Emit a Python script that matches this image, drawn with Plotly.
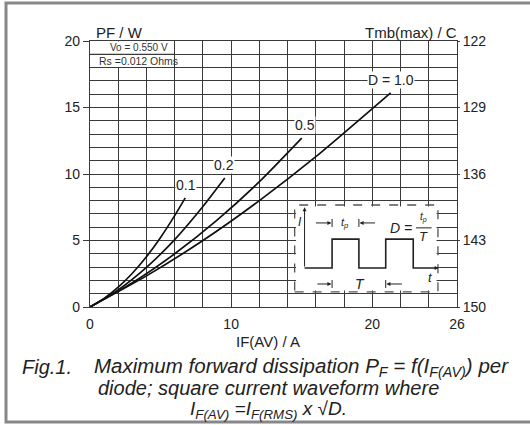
import plotly.graph_objects as go

# ---------------- data ----------------
duty_labels = ["0.1", "0.2", "0.5", "D = 1.0"]
i_d01 = [0, 1, 2, 3, 4, 5, 6, 6.75]
p_d01 = [0, 0.65, 1.49, 2.54, 3.78, 5.23, 6.87, 8.2]
i_d02 = [0, 2, 4, 6, 8, 9.55]
p_d02 = [0, 1.29, 2.98, 5.07, 7.56, 9.7]
i_d05 = [0, 3, 6, 9, 12, 15]
p_d05 = [0, 1.82, 4.0, 6.53, 9.42, 12.7]
i_d10 = [0, 4, 8, 12, 16, 21.3]
p_d10 = [0, 2.34, 5.0, 8.0, 11.3, 16.1]
# label anchor positions (A, W)
label_x = [6.8, 9.5, 15.25, 21.3]
label_y = [9.2, 10.7, 13.7, 17.1]

x_ticks = [0, 10, 20, 26]
y_ticks = [0, 5, 10, 15, 20]
t_ticks = [122, 129, 136, 143, 150]

FONT = "Liberation Sans"
INK = "#222222"
GRID = "#3a3a3a"

# ---------------- figure ----------------
W, H = 530, 425
L, R, T, B = 90, 73, 41, 118
PW, PH = W - L - R, H - T - B


def xp(px):
    return (px - L) / PW


def yp(py):
    return (H - B - py) / PH


fig = go.Figure()
for xs, ys in [(i_d01, p_d01), (i_d02, p_d02), (i_d05, p_d05), (i_d10, p_d10)]:
    fig.add_trace(go.Scatter(x=xs, y=ys, mode="lines",
                             line=dict(color="#111111", width=1.7, shape="spline", smoothing=0.6),
                             showlegend=False, hoverinfo="skip"))
# invisible trace to activate right axis
fig.add_trace(go.Scatter(x=[0], y=[150], yaxis="y2", mode="markers",
                         marker=dict(opacity=0), showlegend=False, hoverinfo="skip"))

ann = []
for lx, ly, t in zip(label_x, label_y, duty_labels):
    ann.append(dict(x=lx, y=ly, xref="x", yref="y", text=t, showarrow=False,
                    font=dict(family=FONT, size=14, color=INK), bgcolor="white", borderpad=0))

# parameter boxes
ann.append(dict(x=xp(108), y=19.5, xref="paper", yref="y", xanchor="left", text="Vo = 0.550 V",
                showarrow=False, font=dict(family=FONT, size=10, color="#333")))
ann.append(dict(x=xp(97), y=18.5, xref="paper", yref="y", xanchor="left", text="Rs =0.012 Ohms",
                showarrow=False, font=dict(family=FONT, size=10.5, color="#333")))

# axis titles
ann.append(dict(x=xp(94), y=yp(32), xref="paper", yref="paper", xanchor="left", yanchor="middle",
                text="PF / W", showarrow=False, font=dict(family=FONT, size=15, color=INK)))
ann.append(dict(x=xp(459), y=yp(32), xref="paper", yref="paper", xanchor="right", yanchor="middle",
                text="Tmb(max) / C", showarrow=False, font=dict(family=FONT, size=15, color=INK)))
ann.append(dict(x=xp(268), y=yp(341), xref="paper", yref="paper", xanchor="center", yanchor="middle",
                text="IF(AV) / A", showarrow=False, font=dict(family=FONT, size=15, color=INK)))

# caption
ann.append(dict(x=xp(20), y=yp(367), xref="paper", yref="paper", xanchor="left", yanchor="middle",
                text="<i>Fig.1.</i>", showarrow=False, font=dict(family=FONT, size=20, color=INK)))
ann.append(dict(x=xp(92), y=yp(367), xref="paper", yref="paper", xanchor="left", yanchor="middle",
                text="<i>Maximum forward dissipation P<sub>F</sub> = f(I<sub>F(AV)</sub>) per</i>",
                showarrow=False, font=dict(family=FONT, size=20.5, color=INK)))
ann.append(dict(x=xp(268), y=yp(388), xref="paper", yref="paper", xanchor="center", yanchor="middle",
                text="<i>diode; square current waveform where</i>", showarrow=False,
                font=dict(family=FONT, size=20, color=INK)))
ann.append(dict(x=xp(268), y=yp(410), xref="paper", yref="paper", xanchor="center", yanchor="middle",
                text="<i>I<sub>F(AV)</sub> =I<sub>F(RMS)</sub> x \u221aD.</i>", showarrow=False,
                font=dict(family=FONT, size=19, color=INK)))

# inset texts
small = dict(family=FONT, size=12, color=INK)
ann += [
    dict(x=14.9, y=6.4, xref="x", yref="y", text="<i>I</i>", showarrow=False, font=small),
    dict(x=18.1, y=6.35, xref="x", yref="y", text="<i>t<sub>p</sub></i>", showarrow=False,
         font=dict(family=FONT, size=11, color=INK)),
    dict(x=22.0, y=5.95, xref="x", yref="y", text="<i>D =</i>", showarrow=False,
         font=dict(family=FONT, size=14, color=INK)),
    dict(x=23.65, y=6.75, xref="x", yref="y", text="<i>t<sub>p</sub></i>", showarrow=False,
         font=dict(family=FONT, size=10, color=INK)),
    dict(x=23.65, y=5.3, xref="x", yref="y", text="<i>T</i>", showarrow=False,
         font=dict(family=FONT, size=13, color=INK)),
    dict(x=24.1, y=2.25, xref="x", yref="y", text="<i>t</i>", showarrow=False,
         font=dict(family=FONT, size=13, color=INK)),
    dict(x=19.1, y=1.75, xref="x", yref="y", text="<i>T</i>", showarrow=False,
         font=dict(family=FONT, size=14, color=INK)),
]
# arrows in inset
arrow_common = dict(xref="x", yref="y", axref="x", ayref="y", text="", showarrow=True,
                    arrowhead=2, arrowsize=0.8, arrowwidth=1, arrowcolor="#222")
for (hx, hy, tx, ty) in [(17.1, 6.32, 15.9, 6.32), (19.1, 6.32, 20.3, 6.32),
                         (17.1, 1.73, 16.0, 1.73), (21.0, 1.73, 22.2, 1.73),
                         (15.2, 7.5, 15.2, 2.93), (24.7, 2.93, 24.3, 2.93)]:
    a = dict(arrow_common)
    a.update(x=hx, y=hy, ax=tx, ay=ty)
    ann.append(a)

shapes = []
# white cover for parameter boxes + the grid lines that remain visible
shapes.append(dict(type="rect", xref="x", yref="y", x0=0.05, x1=5.95, y0=18.05, y1=19.97,
                   fillcolor="white", line=dict(width=0), layer="above"))
shapes.append(dict(type="line", xref="x", yref="y", x0=0, x1=6, y0=19, y1=19,
                   line=dict(color=GRID, width=1.2), layer="above"))
# inset
shapes.append(dict(type="rect", xref="x", yref="y", x0=14.6, x1=24.55, y0=1.25, y1=7.55,
                   fillcolor="white", line=dict(width=0), layer="above"))
shapes.append(dict(type="rect", xref="x", yref="y", x0=14.5, x1=24.65, y0=1.13, y1=7.67,
                   line=dict(color="#555", width=1.3, dash="dash"), layer="above"))
shapes.append(dict(type="path", xref="x", yref="y",
                   path="M 15.2,2.93 L 17.15,2.93 L 17.15,5.1 L 19.05,5.1 L 19.05,2.93 "
                        "L 20.95,2.93 L 20.95,5.1 L 22.9,5.1 L 22.9,2.93 L 24.6,2.93",
                   line=dict(color="#222", width=1.6), layer="above"))
shapes.append(dict(type="line", xref="x", yref="y", x0=23.1, x1=24.2, y0=5.95, y1=5.95,
                   line=dict(color="#222", width=1), layer="above"))
for (x0, yc) in [(17.15, 6.32), (19.05, 6.32), (17.15, 1.73), (20.95, 1.73)]:
    shapes.append(dict(type="line", xref="x", yref="y", x0=x0, x1=x0, y0=yc - 0.3, y1=yc + 0.3,
                       line=dict(color="#222", width=1), layer="above"))
# outer frame (right side runs off the page)
shapes.append(dict(type="rect", xref="paper", yref="paper", x0=xp(6), x1=xp(620), y0=yp(422), y1=yp(3),
                   line=dict(color="#888", width=3), layer="above"))

fig.update_layout(
    width=W, height=H, margin=dict(l=L, r=R, t=T, b=B, pad=0),
    paper_bgcolor="white", plot_bgcolor="white",
    font=dict(family=FONT, color=INK),
    xaxis=dict(range=[0, 26], tickvals=x_ticks, ticktext=[str(v) for v in x_ticks],
               showgrid=True, gridcolor=GRID, gridwidth=1.2, zeroline=False,
               showline=True, linecolor=GRID, linewidth=1.2, mirror=True,
               ticks="outside", ticklen=4, tickcolor="rgba(0,0,0,0)",
               tickfont=dict(family=FONT, size=14, color=INK),
               minor=dict(dtick=2, tick0=0, showgrid=True, gridcolor=GRID, gridwidth=1.2, ticks="")),
    yaxis=dict(range=[0, 20], tickvals=y_ticks, ticktext=[str(v) for v in y_ticks],
               showgrid=True, gridcolor=GRID, gridwidth=1.2, zeroline=False,
               showline=True, linecolor=GRID, linewidth=1.2, mirror=True,
               ticks="outside", ticklen=6, tickcolor=GRID, tickwidth=1.2,
               tickfont=dict(family=FONT, size=14, color=INK),
               minor=dict(dtick=1, tick0=0, showgrid=True, gridcolor=GRID, gridwidth=1.2, ticks="")),
    yaxis2=dict(range=[150, 122], overlaying="y", side="right", tickvals=t_ticks,
                ticktext=[str(v) for v in t_ticks], showgrid=False, zeroline=False,
                ticks="outside", ticklen=2, tickcolor=GRID, tickwidth=1.2,
                tickfont=dict(family=FONT, size=14, color=INK)),
    annotations=ann, shapes=shapes,
)

fig.write_html("out.html")
